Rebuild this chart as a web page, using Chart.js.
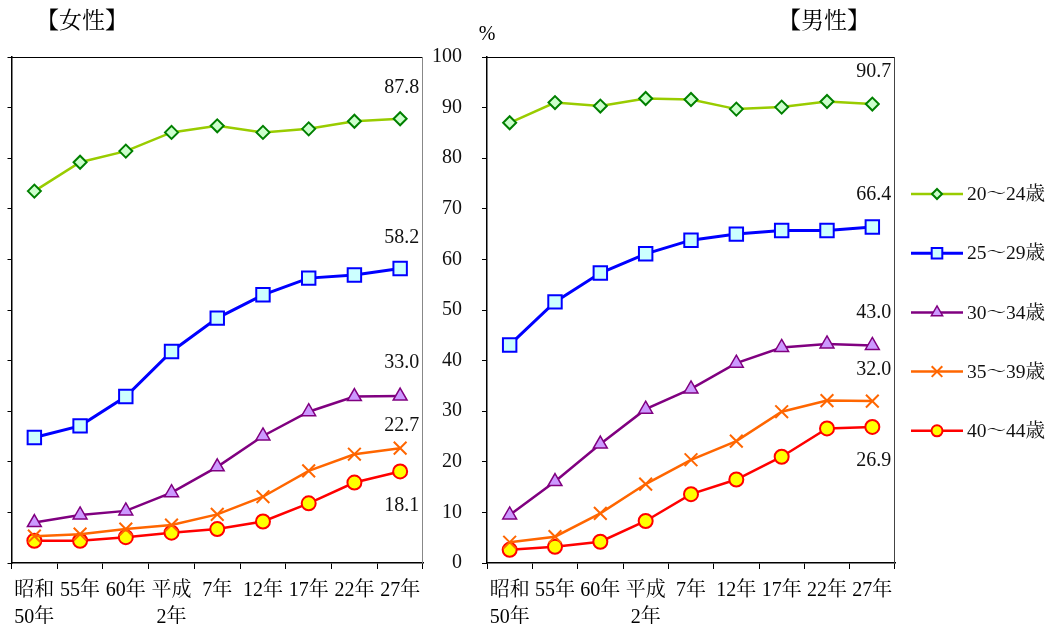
<!DOCTYPE html>
<html><head><meta charset="utf-8">
<script src="https://cdn.jsdelivr.net/npm/chart.js@4.4.0/dist/chart.umd.min.js"></script>
<style>
html,body{margin:0;padding:0;background:#fff;}
#wrap{position:relative;width:1049px;height:624px;overflow:hidden;}
canvas{position:absolute;left:0;top:0;}
</style></head><body>
<div id="wrap"><canvas id="c1" width="1049" height="624"></canvas><canvas id="c2" width="1049" height="624"></canvas></div>
<script>
// ---- data ----
const categories = [['昭和','50年'],'55年','60年',['平成','2年'],'7年','12年','17年','22年','27年'];
const seriesNames = ['20〜24歳','25〜29歳','30〜34歳','35〜39歳','40〜44歳'];
const yMin = 0, yMax = 100, yStep = 10;
const percentLabel = '%';
const titleFemale = '【女性】';
const titleMale = '【男性】';

const female20_24 = [73.5, 79.2, 81.4, 85.1, 86.4, 85.1, 85.8, 87.3, 87.8];
const female25_29 = [24.8, 27.1, 32.9, 41.8, 48.4, 53.0, 56.3, 56.9, 58.2];
const female30_34 = [8.0, 9.5, 10.3, 13.9, 19.0, 25.1, 29.9, 32.9, 33.0];
const female35_39 = [5.3, 5.7, 6.7, 7.5, 9.6, 13.1, 18.2, 21.5, 22.7];
const female40_44 = [4.4, 4.4, 5.1, 6.0, 6.7, 8.2, 11.8, 15.9, 18.1];

const male20_24 = [87.0, 91.0, 90.3, 91.8, 91.6, 89.7, 90.1, 91.2, 90.7];
const male25_29 = [43.1, 51.6, 57.3, 61.1, 63.8, 65.0, 65.7, 65.7, 66.4];
const male30_34 = [9.5, 16.1, 23.5, 30.4, 34.4, 39.5, 42.6, 43.3, 43.0];
const male35_39 = [4.1, 5.2, 9.8, 15.6, 20.4, 24.1, 29.9, 32.1, 32.0];
const male40_44 = [2.6, 3.2, 4.2, 8.3, 13.6, 16.5, 21.0, 26.6, 26.9];

// ---- styles ----
const FONT = "'Liberation Serif','Noto Serif CJK JP','Noto Sans CJK JP',serif";
const styles = [
  {line:'#99CC00', border:'#008000', fill:'#CCFFCC', pointStyle:'rectRot', r:6.5, lr:5, bw:2.5, pbw:2},
  {line:'#0000FF', border:'#0000FF', fill:'#CCFFFF', pointStyle:'rect', r:9.5, lr:7.5, bw:3, pbw:2},
  {line:'#800080', border:'#800080', fill:'#CC99FF', pointStyle:'triangle', r:8, lr:6.5, bw:2.5, pbw:1.5},
  {line:'#FF6600', border:'#FF6600', fill:'#FF6600', pointStyle:'crossRot', r:9, lr:7.5, bw:2.5, pbw:2},
  {line:'#FF0000', border:'#FF0000', fill:'#FFFF00', pointStyle:'circle', r:7, lr:5.5, bw:2.5, pbw:2}
];

function makeDatasets(arrs){
  return arrs.map((d,i)=>({
    label: seriesNames[i], data: d,
    borderColor: styles[i].line, borderWidth: styles[i].bw,
    pointStyle: styles[i].pointStyle, pointRadius: styles[i].r,
    pointBackgroundColor: styles[i].fill, pointBorderColor: styles[i].border,
    pointBorderWidth: styles[i].pbw, tension: 0, fill: false
  }));
}

function endLabelPlugin(offsets, dx){
  return {
    id:'endLabels',
    afterDatasetsDraw(chart){
      const ctx = chart.ctx;
      ctx.save();
      ctx.font = "20px " + FONT;
      ctx.fillStyle = '#111';
      ctx.textAlign = 'right';
      ctx.textBaseline = 'middle';
      chart.data.datasets.forEach((ds,i)=>{
        const meta = chart.getDatasetMeta(i);
        const n = ds.data.length - 1;
        const el = meta.data[n];
        ctx.fillText(ds.data[n].toFixed(1), el.x + dx, el.y + offsets[i]);
      });
      ctx.restore();
    }
  };
}

function framePlugin(rightColor){
  return {
    id:'frame',
    afterDraw(chart){
      const a = chart.chartArea, ctx = chart.ctx;
      ctx.save();
      ctx.lineWidth = 1;
      ctx.strokeStyle = '#000';
      ctx.beginPath(); ctx.moveTo(a.left, a.top + 0.5); ctx.lineTo(a.right, a.top + 0.5); ctx.stroke();
      ctx.strokeStyle = rightColor;
      ctx.beginPath(); ctx.moveTo(a.right - 0.5, a.top); ctx.lineTo(a.right - 0.5, a.bottom); ctx.stroke();
      ctx.restore();
    }
  };
}

function textPlugin(items){
  return {
    id:'texts',
    afterDraw(chart){
      const ctx = chart.ctx;
      ctx.save();
      items.forEach(t=>{
        ctx.font = t.font;
        ctx.fillStyle = '#000';
        ctx.textAlign = 'center';
        ctx.textBaseline = 'middle';
        ctx.fillText(t.text, t.x, t.y);
      });
      ctx.restore();
    }
  };
}

const legendPlugin = {
  id:'sideLegend',
  afterDraw(chart){
    const ctx = chart.ctx;
    const x0 = 911, x1 = 963, xm = 937, tx = 967;
    ctx.save();
    chart.data.datasets.forEach((ds,i)=>{
      const y = 194 + i*59.2;
      ctx.strokeStyle = ds.borderColor; ctx.lineWidth = ds.borderWidth;
      ctx.beginPath(); ctx.moveTo(x0, y); ctx.lineTo(x1, y); ctx.stroke();
      ctx.fillStyle = ds.pointBackgroundColor; ctx.strokeStyle = ds.pointBorderColor;
      ctx.lineWidth = ds.pointBorderWidth;
      if (Chart.helpers && Chart.helpers.drawPoint) {
        Chart.helpers.drawPoint(ctx, {pointStyle: ds.pointStyle, radius: styles[i].lr, rotation: 0, borderWidth: ds.pointBorderWidth}, xm, y);
      } else {
        ctx.beginPath(); ctx.arc(xm, y, styles[i].lr, 0, Math.PI*2); ctx.fill(); ctx.stroke();
      }
      ctx.fillStyle = '#111';
      ctx.font = "19.5px " + FONT;
      ctx.textAlign = 'left'; ctx.textBaseline = 'middle';
      ctx.fillText(ds.label, tx, y + 1);
    });
    ctx.restore();
  }
};

const xScale = {
  type:'category', offset:true,
  grid:{offset:true, drawOnChartArea:false, drawTicks:true, tickLength:6, color:'#000', lineWidth:1},
  border:{display:true, color:'#000', width:1.5},
  ticks:{font:{family:FONT, size:20, lineHeight:1.35}, color:'#000', padding:8, maxRotation:0, autoSkip:false},
  afterFit(s){ s.height = 61; }
};

function baseOptions(padding, yWidth, showY){
  return {
    responsive:false, animation:false, devicePixelRatio:1,
    layout:{padding},
    plugins:{legend:{display:false}, tooltip:{enabled:false}, title:{display:false}},
    scales:{
      x: xScale,
      y:{
        min:yMin, max:yMax,
        grid:{drawOnChartArea:false, drawTicks:true, tickLength: showY ? 5 : 4, color:'#000'},
        border:{display:true, color:'#000', width:1.5},
        ticks:{stepSize:yStep, display:showY, font:{family:FONT, size:20}, color:'#111', padding:20},
        afterFit(s){ s.width = yWidth; }
      }
    }
  };
}

new Chart(document.getElementById('c1'), {
  type:'line',
  data:{labels:categories, datasets:makeDatasets([female20_24,female25_29,female30_34,female35_39,female40_44])},
  options: baseOptions({left:0, top:57, right:626, bottom:0}, 9, false),
  plugins:[framePlugin('#888'), endLabelPlugin([-31,-31,-33,-22,34], 19),
    textPlugin([{text:titleFemale, x:82, y:22, font:"23px "+FONT}])]
});

new Chart(document.getElementById('c2'), {
  type:'line',
  data:{labels:categories, datasets:makeDatasets([male20_24,male25_29,male30_34,male35_39,male40_44])},
  options: baseOptions({left:425, top:57, right:154, bottom:0}, 62, true),
  plugins:[framePlugin('#444'), endLabelPlugin([-32,-32,-33,-31,34], 19), legendPlugin,
    textPlugin([{text:titleMale, x:824, y:22, font:"23px "+FONT},{text:percentLabel, x:487, y:35, font:"20px "+FONT}])]
});
</script>
</body></html>
